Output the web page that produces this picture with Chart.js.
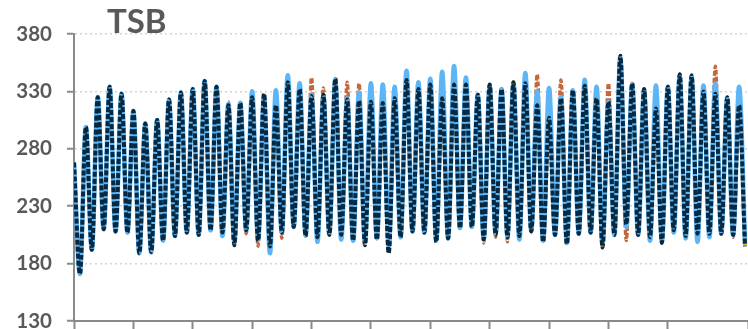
<!DOCTYPE html>
<html>
<head>
<meta charset="utf-8">
<title>TSB</title>
<script src="https://cdn.jsdelivr.net/npm/chart.js@4.4.1/dist/chart.umd.min.js"></script>
<style>
  html, body { margin: 0; padding: 0; background: #ffffff; overflow: hidden; }
  #wrap { width: 748px; height: 329px; }
</style>
</head>
<body>
<div id="wrap"><canvas id="chart" width="748" height="329"></canvas></div>
<script>
// Successive turning points (peak / trough) of each series, in time order.
const measured = [
  268,171,299,192,325,210,334,208,328,207,
  313,189,302,190,305,200,323,204,329,207,
  332,205,339,209,334,204,319,199,320,209,
  330,201,325,189,331,207,344,212,337,205,
  327,199,326,206,340,201,324,200,329,199,
  337,202,336,195,334,203,348,208,338,207,
  341,200,347,202,352,211,342,212,327,202,
  335,206,332,204,337,201,346,209,330,200,
  333,205,325,198,331,206,340,207,334,198,
  321,205,359,212,336,205,331,200,335,200,
  334,207,343,202,342,199,335,203,337,206,
  324,205,334,197
];
const modelA = [
  268,171,299,192,325,210,334,208,328,207,
  313,189,302,190,305,200,323,204,329,207,
  332,205,339,209,334,207,318,197,320,209,
  325,200,327,195,318,207,338,212,332,204,
  326,203,327,205,341,205,323,200,322,197,
  321,201,320,190,324,203,340,208,332,207,
  336,200,324,202,336,211,336,212,327,201,
  336,205,332,203,338,204,337,208,318,200,
  307,205,324,197,331,206,334,207,324,195,
  321,205,361,214,337,205,332,203,315,199,
  334,209,344,204,343,206,330,206,328,206,
  325,205,318,196
];
const modelB = [
  268,171,299,192,325,210,334,208,328,207,
  313,189,302,190,305,200,323,204,329,207,
  332,205,339,209,334,207,321,197,320,206,
  325,195,326,195,318,202,338,212,332,204,
  342,203,333,205,341,205,338,200,337,197,
  321,201,320,190,324,203,340,207,332,207,
  336,200,334,202,336,211,336,211,327,198,
  336,203,332,199,338,204,337,208,345,200,
  307,205,340,197,331,206,334,207,327,195,
  337,205,361,200,337,205,333,203,315,199,
  334,209,344,204,343,206,330,206,352,206,
  325,203,318,196
];
const modelC = [
  268,171,299,192,325,210,334,208,328,207,
  313,189,302,190,305,200,323,204,329,207,
  332,205,339,209,334,207,318,196,320,209,
  325,200,328,195,318,207,338,212,332,204,
  326,203,327,205,341,205,323,200,322,196,
  321,201,320,189,324,203,340,208,332,207,
  336,199,324,202,336,211,336,212,327,201,
  336,205,332,203,338,204,337,208,318,199,
  307,205,324,197,331,206,335,207,324,194,
  321,205,361,214,337,205,332,203,315,198,
  334,209,345,204,344,206,330,206,328,206,
  325,205,318,195
];
const yTicks = [130, 180, 230, 280, 330, 380];
const chartTitle = 'TSB';

const toPoints = arr => arr.map((v, i) => ({ x: i, y: v }));

const titlePlugin = {
  id: 'cornerTitle',
  afterDraw(chart) {
    const ctx = chart.ctx;
    ctx.save();
    ctx.font = 'bold 33px Lato';
    ctx.fillStyle = '#595959';
    ctx.textBaseline = 'alphabetic';
    ctx.textAlign = 'left';
    ctx.fillText(chartTitle, 107, 33);
    ctx.restore();
  }
};

const axisGray = '#8a8a8a';
const dash = [5, 2];

// First dataset is painted last (on top).
new Chart(document.getElementById('chart'), {
  type: 'line',
  data: {
    datasets: [
      { label: 'C', data: toPoints(modelC), borderColor: '#062840', borderWidth: 4, borderDash: dash },
      { label: 'Actual', data: toPoints(measured), borderColor: '#5CB5F6', borderWidth: 4.6 },
      { label: 'B', data: toPoints(modelB), borderColor: '#C4673C', borderWidth: 3.4, borderDash: dash },
      { label: 'A', data: toPoints(modelA), borderColor: '#FFC000', borderWidth: 3.8, borderDash: dash }
    ]
  },
  options: {
    responsive: false,
    animation: false,
    devicePixelRatio: 1,
    layout: { padding: { top: 34, right: 0, bottom: 0, left: 0 } },
    elements: {
      point: { radius: 0 },
      line: { cubicInterpolationMode: 'monotone', fill: false }
    },
    plugins: { legend: { display: false }, tooltip: { enabled: false } },
    scales: {
      x: {
        type: 'linear',
        min: 0,
        max: 113.5,
        ticks: { stepSize: 10, display: false },
        grid: { drawOnChartArea: false, drawTicks: true, tickLength: 8, tickColor: axisGray, tickWidth: 2 },
        border: { color: axisGray, width: 2 }
      },
      y: {
        min: yTicks[0],
        max: yTicks[yTicks.length - 1],
        afterBuildTicks(scale) { scale.ticks = yTicks.map(v => ({ value: v })); },
        ticks: {
          color: '#595959',
          padding: 15,
          font: { family: 'Lato', weight: 'bold', size: 20.5 }
        },
        grid: { color: '#d4d4d4', lineWidth: 1.5, tickLength: 7, tickColor: axisGray, tickWidth: 2 },
        border: { color: axisGray, width: 2, dash: [2, 3] },
        afterFit(scale) { scale.width = 74; scale.paddingTop = 0; scale.paddingBottom = 0; }
      }
    }
  },
  plugins: [titlePlugin]
});
</script>
</body>
</html>
